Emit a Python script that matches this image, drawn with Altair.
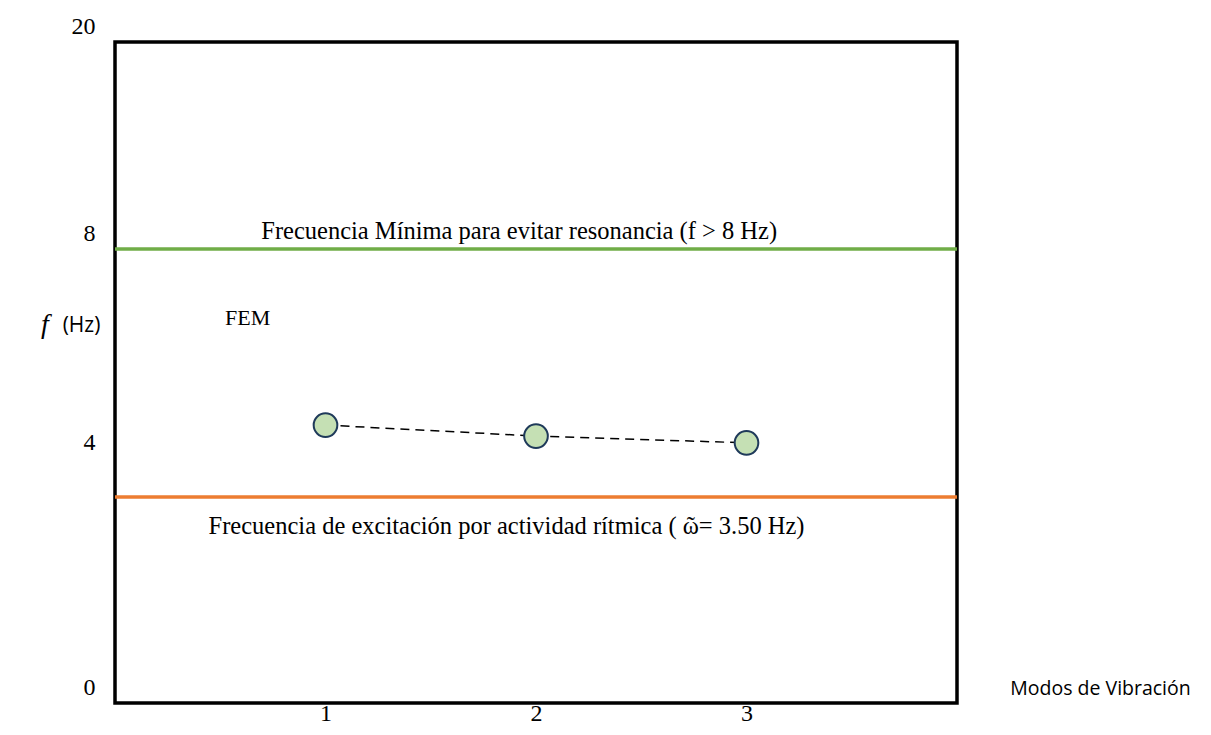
import altair as alt
import pandas as pd

# Data
modes = [1, 2, 3]
freqs = [4.63, 4.42, 4.29]

limit_values = [8, 3.5]
limit_colors = ["#70AD47", "#ED7D31"]

y_ticks = [0, 4, 8, 20]
x_ticks = [1, 2, 3]

big_text = [
    "Frecuencia Mínima para evitar resonancia (f > 8 Hz)",
    "Frecuencia de excitación por actividad rítmica ( ῶ= 3.50 Hz)",
]
big_x = [1.92, 1.86]
big_y = [8.99, 2.99]

small_text = ["FEM"]
small_x = [0.63]
small_y = [6.68]

sym_text = ["f"]
sym_x = [-0.333]
sym_y = [6.55]

pts = pd.DataFrame({"mode": modes, "freq": freqs})
lims = pd.DataFrame({"val": limit_values, "color": limit_colors})
big = pd.DataFrame({"text": big_text, "x": big_x, "y": big_y})
small = pd.DataFrame({"text": small_text, "x": small_x, "y": small_y})
sym = pd.DataFrame({"text": sym_text, "x": sym_x, "y": sym_y})

xscale = alt.Scale(domain=[0, 4], nice=False)
yscale = alt.Scale(domain=[0, 3.5, 4, 8, 20], range=[661, 455, 416, 207, 0], nice=False)

xaxis = alt.Axis(
    values=x_ticks, format="d", title="Modos de Vibración",
    titleX=985, titleY=-15, titleAlign="center", titleBaseline="middle",
    titleFont="Open Sans", titleFontSize=19.5, titleFontWeight="normal", titleColor="black",
    labelFont="Liberation Serif", labelFontSize=24, labelColor="black", labelPadding=-2,
    domain=False, ticks=False, grid=False,
)
yaxis = alt.Axis(
    values=y_ticks, format="d", title="(Hz)", titleAngle=0,
    titleX=-34, titleY=283, titleAlign="center", titleBaseline="middle",
    titleFont="Open Sans", titleFontSize=21, titleFontWeight="normal", titleColor="black",
    labelFont="Liberation Serif", labelFontSize=24, labelColor="black",
    labelPadding=20, labelOffset=-16, labelOverlap=False,
    domain=False, ticks=False, grid=False,
)

base_axes = alt.Chart(pts).mark_point(opacity=0).encode(
    x=alt.X("mode:Q", scale=xscale, axis=xaxis),
    y=alt.Y("freq:Q", scale=yscale, axis=yaxis),
)

rules = alt.Chart(lims).mark_rule(strokeWidth=3.5).encode(
    y=alt.Y("val:Q", scale=yscale),
    color=alt.Color("color:N", scale=None, legend=None),
)

line = alt.Chart(pts).mark_line(color="black", strokeWidth=1.5, strokeDash=[9, 6]).encode(
    x=alt.X("mode:Q", scale=xscale),
    y=alt.Y("freq:Q", scale=yscale),
)

points = alt.Chart(pts).mark_point(
    shape="circle", filled=True, fill="#C5E0B4", stroke="#1F3A5A", strokeWidth=2, size=560, opacity=1
).encode(
    x=alt.X("mode:Q", scale=xscale),
    y=alt.Y("freq:Q", scale=yscale),
)

big_texts = alt.Chart(big).mark_text(
    font="Liberation Serif", fontSize=24.5, color="black", align="center", baseline="middle"
).encode(
    x=alt.X("x:Q", scale=xscale),
    y=alt.Y("y:Q", scale=yscale),
    text="text:N",
)

small_texts = alt.Chart(small).mark_text(
    font="Liberation Serif", fontSize=22, color="black", align="center", baseline="middle"
).encode(
    x=alt.X("x:Q", scale=xscale),
    y=alt.Y("y:Q", scale=yscale),
    text="text:N",
)

symtext = alt.Chart(sym).mark_text(
    font="Liberation Serif", fontSize=28, fontStyle="italic", color="black", align="center", baseline="middle"
).encode(
    x=alt.X("x:Q", scale=xscale),
    y=alt.Y("y:Q", scale=yscale),
    text="text:N",
)

chart = alt.layer(base_axes, rules, line, points, big_texts, small_texts, symtext).properties(
    width=842, height=661,
    autosize=alt.AutoSizeParams(type="none"),
    padding={"left": 107, "top": 34, "right": 240, "bottom": 22},
).configure_view(stroke="black", strokeWidth=3.5)

chart.save("out.html", embed_options={"renderer": "svg", "actions": False})
